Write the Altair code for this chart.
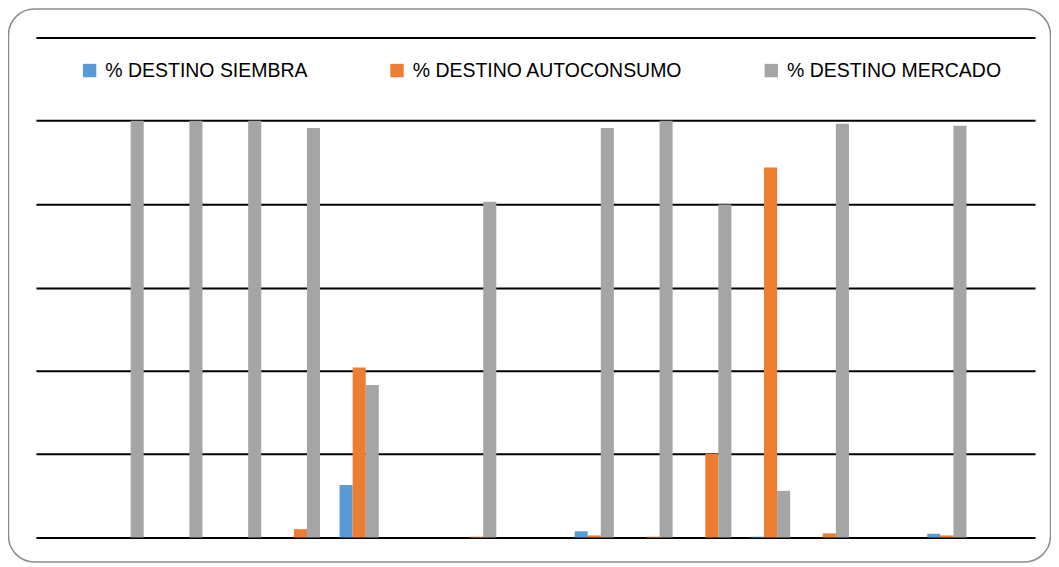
import altair as alt
import pandas as pd

categories = [f"G{i:02d}" for i in range(1, 18)]
series = ["% DESTINO SIEMBRA", "% DESTINO AUTOCONSUMO", "% DESTINO MERCADO"]
colors = ["#5B9BD5", "#ED7D31", "#A5A5A5"]

siembra = [0, 0, 0, 0, 0, 0.126, 0, 0, 0, 0.015, 0, 0, 0.002, 0, 0, 0.009, 0]
autoconsumo = [0, 0, 0, 0, 0.02, 0.408, 0, 0.002, 0, 0.005, 0.002, 0.201, 0.888, 0.01, 0, 0.005, 0]
mercado = [0, 1.0, 1.0, 1.0, 0.983, 0.366, 0, 0.806, 0, 0.983, 1.0, 0.799, 0.112, 0.993, 0, 0.988, 0]

rows = []
for i, c in enumerate(categories):
    for s, vals in zip(series, [siembra, autoconsumo, mercado]):
        rows.append({"cat": c, "serie": s, "valor": vals[i]})
df = pd.DataFrame(rows)

W, H = 1001, 501

bars = alt.Chart(df).mark_bar().encode(
    x=alt.X("cat:N", axis=None, sort=categories,
            scale=alt.Scale(paddingInner=0.333, paddingOuter=0.1667)),
    xOffset=alt.XOffset("serie:N", scale=alt.Scale(domain=series, paddingInner=0, paddingOuter=0)),
    y=alt.Y("valor:Q", scale=alt.Scale(domain=[0, 1.2], nice=False),
            axis=alt.Axis(values=[0, 0.2, 0.4, 0.6, 0.8, 1.0, 1.2], labels=False, ticks=False,
                          domain=False, title=None, grid=True, gridColor="#000000",
                          gridWidth=2, gridOpacity=1)),
    color=alt.Color("serie:N", scale=alt.Scale(domain=series, range=colors),
                    legend=alt.Legend(title=None, orient="none", legendX=44, legendY=23,
                                      direction="horizontal", symbolType="square",
                                      symbolSize=180, symbolStrokeWidth=0,
                                      labelFontSize=19.5, labelFont="Liberation Sans",
                                      labelColor="#000000", columnPadding=79,
                                      labelOffset=6, padding=0, labelLimit=500)),
)

frame = alt.Chart(pd.DataFrame({"k": [0]})).mark_rect(
    fill="transparent", stroke="#8c8c8c", strokeWidth=1.5, cornerRadius=26
).encode(
    x=alt.value(-27.5), x2=alt.value(W + 15.5),
    y=alt.value(-28.5), y2=alt.value(H + 24.5),
)

chart = alt.layer(frame, bars).properties(
    width=W, height=H,
    padding={"left": 28, "top": 29, "right": 16, "bottom": 25},
    autosize=alt.AutoSizeParams(type="none"),
    background="white",
).configure_view(stroke=None)

chart.save("out.html", embed_options={"renderer": "svg", "actions": False})
